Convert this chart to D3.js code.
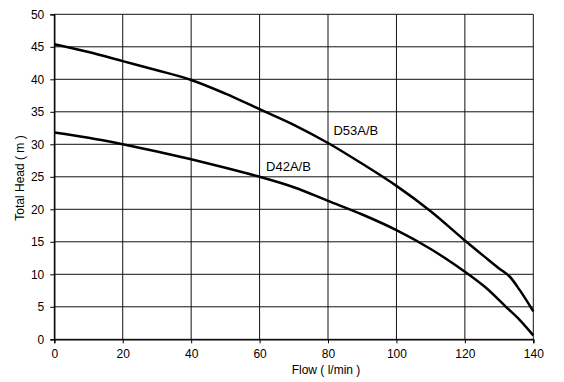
<!DOCTYPE html>
<head>
  <meta charset="UTF-8" />
  <script src="https://d3js.org/d3.v7.min.js"></script>
  <style>
    body { margin: 0; background: #fff; }
    text { font-family: "Liberation Sans", Arial, sans-serif; fill: #000; }
  </style>
</head>
<body>
<script>
  // pump curves
  var flowD53 = [0, 10, 20, 30, 40, 50, 60, 70, 80, 90, 100, 110, 120, 126, 130, 133, 136, 140];
  var headD53 = [45.4, 44.2, 42.8, 41.4, 39.9, 37.8, 35.4, 33.0, 30.2, 27.0, 23.6, 19.7, 15.2, 12.6, 10.9, 9.7, 7.6, 4.3];
  var flowD42 = [0, 10, 20, 30, 40, 50, 60, 70, 80, 90, 100, 110, 120, 126, 132, 136, 140];
  var headD42 = [31.8, 31.0, 30.0, 28.9, 27.7, 26.4, 25.0, 23.4, 21.3, 19.2, 16.8, 13.9, 10.4, 8.0, 5.0, 3.0, 0.6];
  var xTicks = [0, 20, 40, 60, 80, 100, 120, 140];
  var yTicks = [0, 5, 10, 15, 20, 25, 30, 35, 40, 45, 50];

  var width = 564, height = 382;
  var svg = d3.select("body").append("svg").attr("width", width).attr("height", height);

  var x = d3.scaleLinear().domain([0, 140]).range([54.3, 533.3]);
  var y = d3.scaleLinear().domain([0, 50]).range([339.3, 14.3]);

  // grid
  svg.append("g").selectAll("line").data(xTicks).join("line")
    .attr("x1", d => x(d)).attr("x2", d => x(d))
    .attr("y1", y(50)).attr("y2", y(0))
    .attr("stroke", "#111").attr("stroke-width", 1);
  svg.append("g").selectAll("line").data(yTicks).join("line")
    .attr("x1", x(0)).attr("x2", x(140))
    .attr("y1", d => y(d)).attr("y2", d => y(d))
    .attr("stroke", "#111").attr("stroke-width", 1);

  // axes
  var xAxis = svg.append("g").attr("transform", "translate(0," + y(0) + ")")
    .call(d3.axisBottom(x).tickValues(xTicks).tickSize(4).tickPadding(6));
  var yAxis = svg.append("g").attr("transform", "translate(" + x(0) + ",0)")
    .call(d3.axisLeft(y).tickValues(yTicks).tickSize(4).tickPadding(6));
  [xAxis, yAxis].forEach(function (a) {
    a.select(".domain").attr("stroke", "#000").attr("stroke-width", 1.3);
    a.selectAll(".tick line").attr("stroke", "#000");
    a.selectAll("text").style("font-size", "12px").attr("fill", "#000");
  });

  // curves
  var line = d3.line().x(d => x(d[0])).y(d => y(d[1])).curve(d3.curveCatmullRom.alpha(0.5));
  svg.append("path").datum(d3.zip(flowD53, headD53))
    .attr("d", line).attr("fill", "none").attr("stroke", "#000").attr("stroke-width", 2.5);
  svg.append("path").datum(d3.zip(flowD42, headD42))
    .attr("d", line).attr("fill", "none").attr("stroke", "#000").attr("stroke-width", 2.5);

  // curve labels
  svg.append("text").attr("x", x(81.6)).attr("y", y(31.4)).style("font-size", "13px").text("D53A/B");
  svg.append("text").attr("x", x(61.9)).attr("y", y(25.9)).style("font-size", "13px").text("D42A/B");

  // axis titles
  svg.append("text").attr("x", 326).attr("y", 374).attr("text-anchor", "middle")
    .style("font-size", "12px").text("Flow ( l/min )");
  svg.append("text").attr("transform", "translate(24,178) rotate(-90)").attr("text-anchor", "middle")
    .style("font-size", "12px").text("Total Head ( m )");
</script>
</body>
